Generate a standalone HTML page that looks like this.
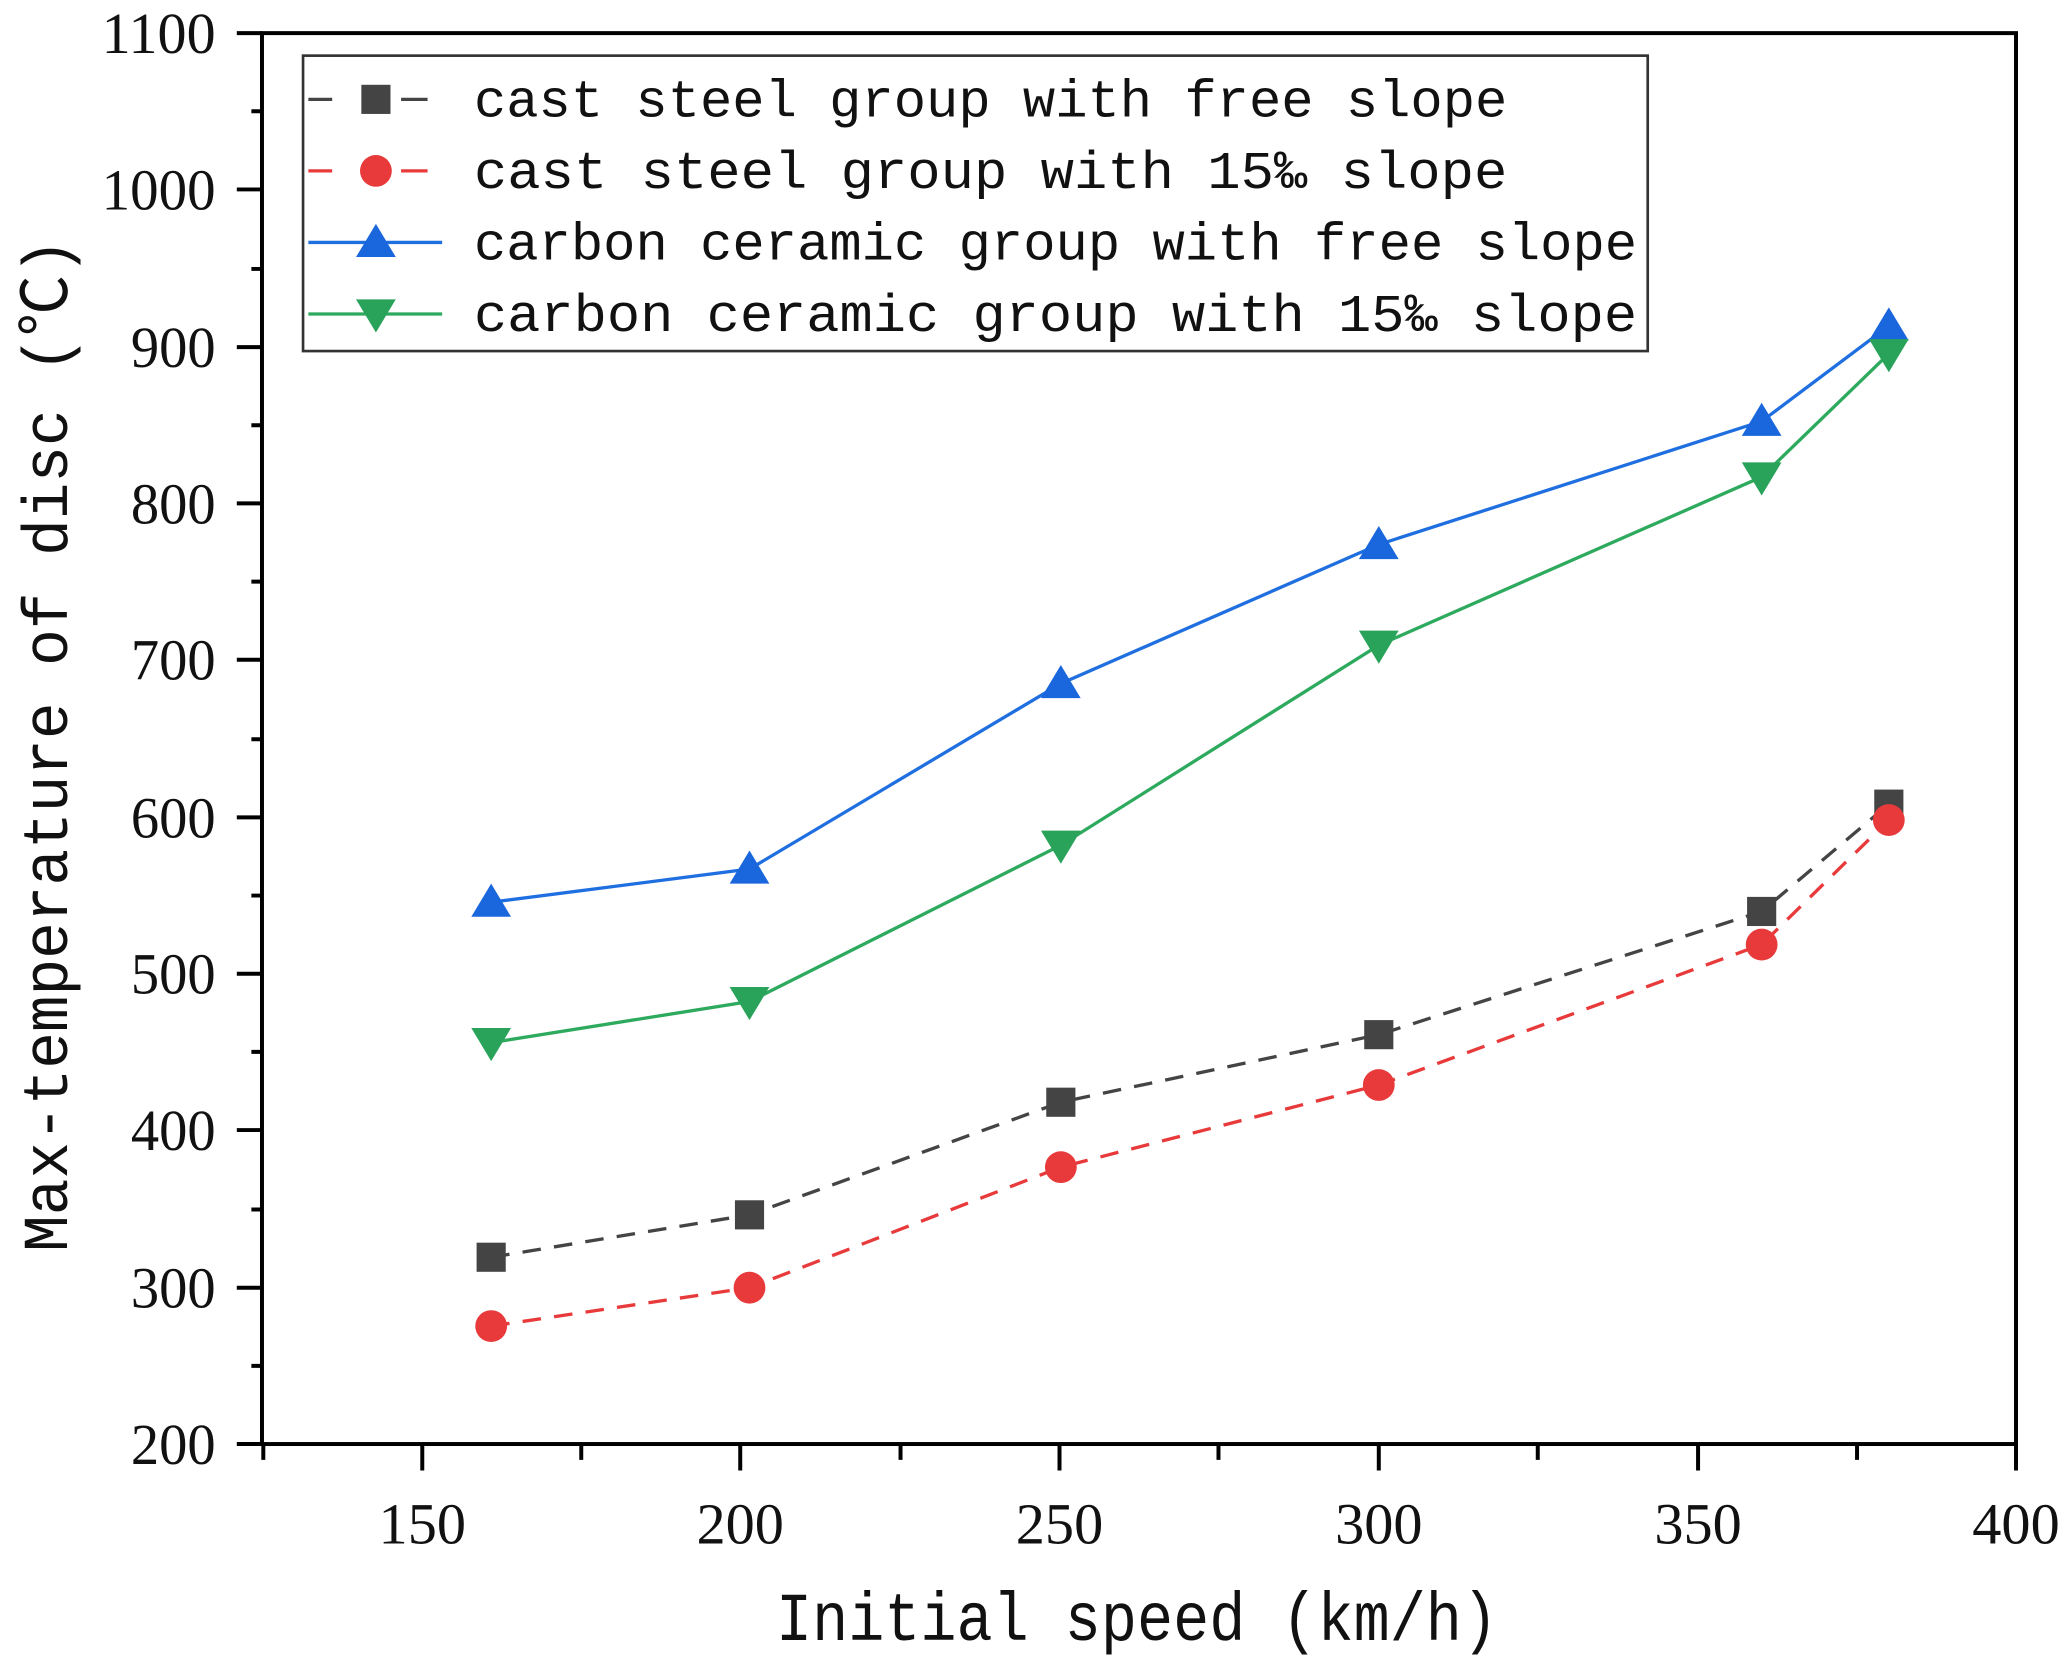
<!DOCTYPE html>
<html><head><meta charset="utf-8"><style>html,body{margin:0;padding:0;background:#fff}svg{display:block}</style></head>
<body>
<svg width="2070" height="1656" viewBox="0 0 1561 1250" xmlns="http://www.w3.org/2000/svg">
<rect width="1561" height="1250" fill="#fff"/>
<g stroke="#000" stroke-width="3" fill="none">
<rect x="197" y="25" width="1324" height="1065"/>
<!-- y ticks -->
<path d="M178 25H197M178 143H197M178 262H197M178 380H197M178 498H197M178 617H197M178 735H197M178 853H197M178 972H197M178 1090H197"/>
<path d="M189 84H197M189 203H197M189 321H197M189 439H197M189 558H197M189 676H197M189 794H197M189 913H197M189 1031H197"/>
<!-- x ticks -->
<path d="M318 1090V1110M558 1090V1110M799 1090V1110M1040 1090V1110M1281 1090V1110M1521 1090V1110"/>
<path d="M198 1090V1102M438 1090V1102M679 1090V1102M919 1090V1102M1160 1090V1102M1401 1090V1102"/>
</g>
<g font-family="Liberation Serif, serif" font-size="44" fill="#111" text-anchor="end">
<text x="162" y="40" textLength="86" lengthAdjust="spacingAndGlyphs">1100</text>
<text x="162" y="158" textLength="86" lengthAdjust="spacingAndGlyphs">1000</text>
<text x="162" y="277" textLength="64" lengthAdjust="spacingAndGlyphs">900</text>
<text x="162" y="395" textLength="64" lengthAdjust="spacingAndGlyphs">800</text>
<text x="162" y="513" textLength="64" lengthAdjust="spacingAndGlyphs">700</text>
<text x="162" y="632" textLength="64" lengthAdjust="spacingAndGlyphs">600</text>
<text x="162" y="750" textLength="64" lengthAdjust="spacingAndGlyphs">500</text>
<text x="162" y="868" textLength="64" lengthAdjust="spacingAndGlyphs">400</text>
<text x="162" y="987" textLength="64" lengthAdjust="spacingAndGlyphs">300</text>
<text x="162" y="1105" textLength="64" lengthAdjust="spacingAndGlyphs">200</text>
</g>
<g font-family="Liberation Serif, serif" font-size="44" fill="#111" text-anchor="middle">
<text x="318" y="1165">150</text><text x="558" y="1165">200</text><text x="799" y="1165">250</text>
<text x="1040" y="1165">300</text><text x="1281" y="1165">350</text><text x="1521" y="1165">400</text>
</g>
<text x="585" y="1238" font-family="Liberation Mono, monospace" font-size="52" fill="#111" textLength="545" lengthAdjust="spacingAndGlyphs">Initial speed (km/h)</text>
<text transform="translate(50,945) rotate(-90)" font-family="Liberation Mono, 'Noto Sans CJK SC', monospace" font-size="48" fill="#111" textLength="765" lengthAdjust="spacingAndGlyphs">Max-temperature of disc (℃)</text>
<!-- series -->
<polyline points="370,949 565,917 800,832 1040,781 1329,688 1425,607" fill="none" stroke="#444" stroke-width="2.5" stroke-dasharray="14,10"/>
<polyline points="370,1001 565,972 800,881 1040,819 1329,713 1425,619" fill="none" stroke="#e83a3a" stroke-width="2.5" stroke-dasharray="14,10"/>
<polyline points="370,681 565,656 800,516 1040,411 1329,318 1425,246" fill="none" stroke="#1f6fe0" stroke-width="2.5"/>
<polyline points="370,787 565,756 800,638 1040,487 1329,360 1425,267" fill="none" stroke="#2eaa5e" stroke-width="2.5"/>
<g fill="#444"><rect x="359" y="938" width="22" height="22"/><rect x="554" y="906" width="22" height="22"/><rect x="789" y="821" width="22" height="22"/><rect x="1029" y="770" width="22" height="22"/><rect x="1318" y="677" width="22" height="22"/><rect x="1414" y="596" width="22" height="22"/></g>
<g fill="#e83a3a"><circle cx="370" cy="1001" r="12"/><circle cx="565" cy="972" r="12"/><circle cx="800" cy="881" r="12"/><circle cx="1040" cy="819" r="12"/><circle cx="1329" cy="713" r="12"/><circle cx="1425" cy="619" r="12"/></g>
<g fill="#1a66dd"><path d="M370 667l15 25h-30z"/><path d="M565 642l15 25h-30z"/><path d="M800 502l15 25h-30z"/><path d="M1040 397l15 25h-30z"/><path d="M1329 304l15 25h-30z"/><path d="M1425 232l15 25h-30z"/></g>
<g fill="#2aa35a"><path d="M370 801l15 -25h-30z"/><path d="M565 770l15 -25h-30z"/><path d="M800 652l15 -25h-30z"/><path d="M1040 501l15 -25h-30z"/><path d="M1329 374l15 -25h-30z"/><path d="M1425 281l15 -25h-30z"/></g>
<!-- legend -->
<rect x="228" y="42" width="1015" height="223" fill="#fff" stroke="#333" stroke-width="2"/>
<path d="M232 75H250M302 75H322" stroke="#444" stroke-width="2.5"/><rect x="272" y="64" width="22" height="22" fill="#444"/>
<path d="M232 129H250M302 129H322" stroke="#e83a3a" stroke-width="2.5"/><circle cx="283" cy="129" r="12" fill="#e83a3a"/>
<path d="M232 183H333" stroke="#1f6fe0" stroke-width="2.5"/><path d="M283 169l15 25h-30z" fill="#1a66dd"/>
<path d="M232 237H333" stroke="#2eaa5e" stroke-width="2.5"/><path d="M283 251l15 -25h-30z" fill="#2aa35a"/>
<g font-family="Liberation Mono, monospace" font-size="40" fill="#111">
<text x="357" y="88" textLength="780" lengthAdjust="spacingAndGlyphs">cast steel group with free slope</text>
<text x="357" y="142" textLength="780" lengthAdjust="spacingAndGlyphs">cast steel group with 15‰ slope</text>
<text x="357" y="196" textLength="878" lengthAdjust="spacingAndGlyphs">carbon ceramic group with free slope</text>
<text x="357" y="250" textLength="878" lengthAdjust="spacingAndGlyphs">carbon ceramic group with 15‰ slope</text>
</g>
</svg>
</body></html>
